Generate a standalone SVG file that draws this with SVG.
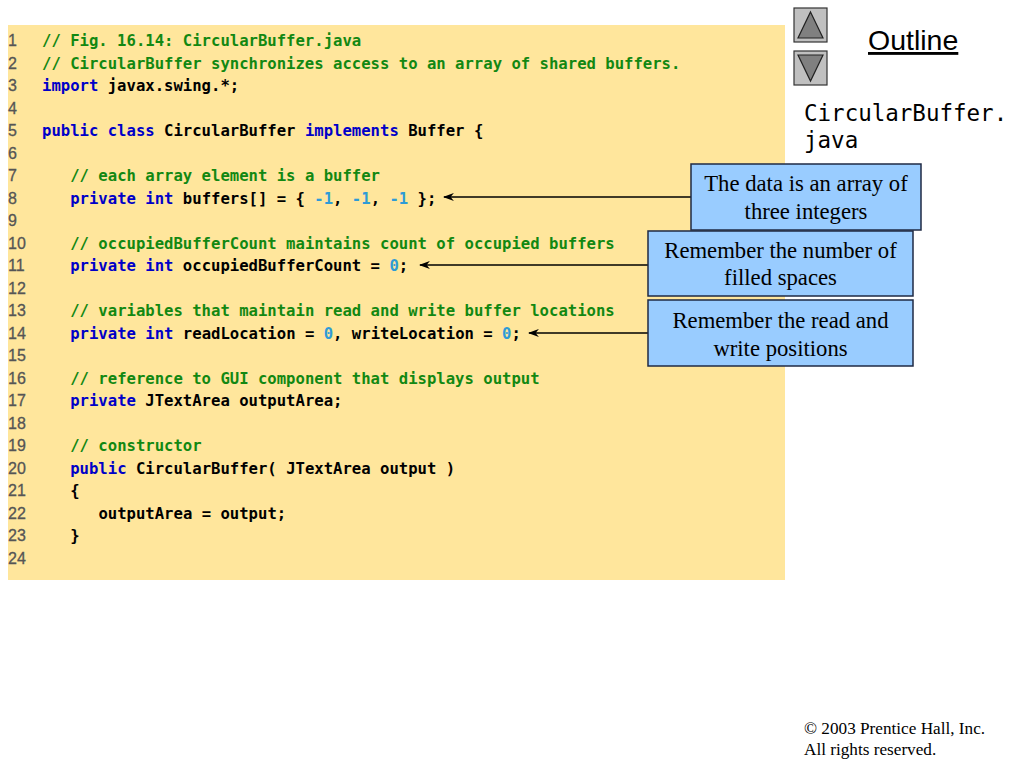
<svg xmlns="http://www.w3.org/2000/svg" width="1024" height="768" viewBox="0 0 1024 768">
<defs>
<style>
.ln{font-family:"Liberation Sans",Arial,sans-serif;font-size:16px;fill:#555;stroke:#555;stroke-width:0.3}
.code{font-family:"DejaVu Sans Mono",monospace;font-size:15.6px;fill:#000;font-weight:bold}
.c{fill:#128812}
.k{fill:#0000c8}
.n{fill:#2e9bd6}
.box{fill:#99ccff;stroke:#1f2a44;stroke-width:1.5}
.bt{font-family:"Liberation Serif","Times New Roman",serif;font-size:22.7px;fill:#000;text-anchor:middle}
.conn{stroke:#000;stroke-width:1.5;fill:none;marker-end:url(#ah)}
.btn{fill:#c0c0c0;stroke:#333;stroke-width:1.2}
.tri{fill:#808080;stroke:#222;stroke-width:1.2}
</style>
<marker id="ah" viewBox="0 0 10 10" refX="9" refY="5" markerWidth="11" markerHeight="9" orient="auto" markerUnits="userSpaceOnUse" preserveAspectRatio="none">
<path d="M0,0.5 L10,5 L0,9.5 L3,5 Z" fill="#000"/>
</marker>
</defs>
<rect width="1024" height="768" fill="#fff"/>
<g id="code">
<rect x="8" y="25" width="777" height="555" fill="#ffe69c"/>
<g class="ln">
<text x="8" y="46">1</text><text x="8" y="68.5">2</text><text x="8" y="91">3</text><text x="8" y="113.5">4</text>
<text x="8" y="136">5</text><text x="8" y="158.5">6</text><text x="8" y="181">7</text><text x="8" y="203.5">8</text>
<text x="8" y="226">9</text><text x="8" y="248.5">10</text><text x="8" y="271">11</text><text x="8" y="293.5">12</text>
<text x="8" y="316">13</text><text x="8" y="338.5">14</text><text x="8" y="361">15</text><text x="8" y="383.5">16</text>
<text x="8" y="406">17</text><text x="8" y="428.5">18</text><text x="8" y="451">19</text><text x="8" y="473.5">20</text>
<text x="8" y="496">21</text><text x="8" y="518.5">22</text><text x="8" y="541">23</text><text x="8" y="563.5">24</text>
</g>
<g class="code">
<text x="42" y="46"><tspan class="c">// Fig. 16.14: CircularBuffer.java</tspan></text>
<text x="42" y="68.5"><tspan class="c">// CircularBuffer synchronizes access to an array of shared buffers.</tspan></text>
<text x="42" y="91"><tspan class="k">import</tspan> javax.swing.*;</text>
<text x="42" y="136"><tspan class="k">public class</tspan> CircularBuffer <tspan class="k">implements</tspan> Buffer {</text>
<text x="70.2" y="181"><tspan class="c">// each array element is a buffer</tspan></text>
<text x="70.2" y="203.5"><tspan class="k">private int</tspan> buffers[] = { <tspan class="n">-1</tspan>, <tspan class="n">-1</tspan>, <tspan class="n">-1</tspan> };</text>
<text x="70.2" y="248.5"><tspan class="c">// occupiedBufferCount maintains count of occupied buffers</tspan></text>
<text x="70.2" y="271"><tspan class="k">private int</tspan> occupiedBufferCount = <tspan class="n">0</tspan>;</text>
<text x="70.2" y="316"><tspan class="c">// variables that maintain read and write buffer locations</tspan></text>
<text x="70.2" y="338.5"><tspan class="k">private int</tspan> readLocation = <tspan class="n">0</tspan>, writeLocation = <tspan class="n">0</tspan>;</text>
<text x="70.2" y="383.5"><tspan class="c">// reference to GUI component that displays output</tspan></text>
<text x="70.2" y="406"><tspan class="k">private</tspan> JTextArea outputArea;</text>
<text x="70.2" y="451"><tspan class="c">// constructor</tspan></text>
<text x="70.2" y="473.5"><tspan class="k">public</tspan> CircularBuffer( JTextArea output )</text>
<text x="70.2" y="496">{</text>
<text x="98.4" y="518.5">outputArea = output;</text>
<text x="70.2" y="541">}</text>
</g>
</g>
<g id="nav-up"><rect class="btn" x="794" y="8" width="33" height="34"/><path class="tri" d="M810.5,12 L823,38 L798,38 Z"/></g>
<g id="nav-down"><rect class="btn" x="794" y="51" width="33" height="34"/><path class="tri" d="M798,55 L823,55 L810.5,81 Z"/></g>
<g id="outline">
<text x="868" y="50" font-family="'Liberation Sans',Arial,sans-serif" font-size="28.5" fill="#000" text-decoration="underline">Outline</text>
</g>
<g id="filename" font-family="'DejaVu Sans Mono',monospace" font-size="22.5" fill="#000">
<text x="804" y="121">CircularBuffer.</text>
<text x="804" y="148">java</text>
</g>
<g id="connectors">
<line class="conn" x1="691" y1="197" x2="444" y2="197"/>
<line class="conn" x1="648" y1="265" x2="420" y2="265"/>
<line class="conn" x1="648" y1="333" x2="529" y2="333"/>
</g>
<g id="callout1"><rect class="box" x="691" y="164" width="230" height="66"/>
<text class="bt" x="806" y="191">The data is an array of</text><text class="bt" x="806" y="219">three integers</text></g>
<g id="callout2"><rect class="box" x="648" y="231" width="265" height="65"/>
<text class="bt" x="780.5" y="258">Remember the number of</text><text class="bt" x="780.5" y="285">filled spaces</text></g>
<g id="callout3"><rect class="box" x="648" y="300" width="265" height="66"/>
<text class="bt" x="780.5" y="328">Remember the read and</text><text class="bt" x="780.5" y="356">write positions</text></g>
<g id="copyright" font-family="'Liberation Serif','Times New Roman',serif" font-size="17.2" fill="#000">
<text x="804" y="734">© 2003 Prentice Hall, Inc.</text>
<text x="804" y="755">All rights reserved.</text>
</g>
</svg>
